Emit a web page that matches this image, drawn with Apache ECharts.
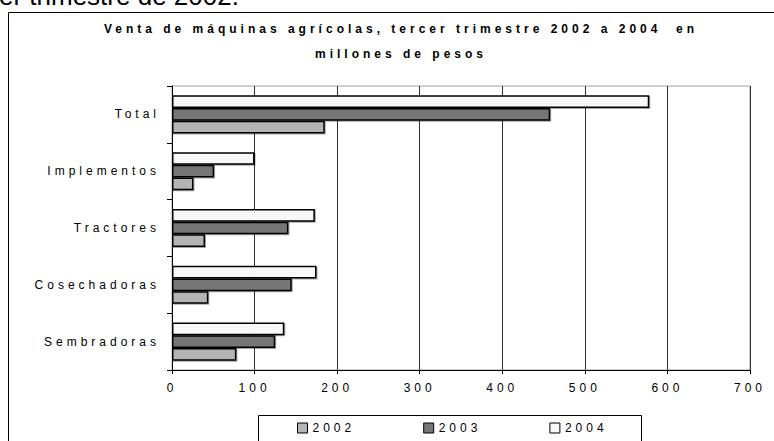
<!DOCTYPE html>
<html><head><meta charset="utf-8">
<script src="https://cdn.jsdelivr.net/npm/echarts@6/dist/echarts.min.js"></script>
<style>
html,body{margin:0;padding:0;background:#fff;}
#c{width:774px;height:441px;}
#c text{letter-spacing:4px;}
#c text[style*="bold"]{letter-spacing:4px;}
#c text[style*="26px"]{letter-spacing:0px;}
</style></head><body><div id="c"></div>
<script>
const categories = ['Total', 'Implementos', 'Tractores', 'Cosechadoras', 'Sembradoras'];
const seriesNames = ['2002', '2003', '2004'];
const v2002 = [185, 26, 40, 44, 78];
const v2003 = [458, 51, 141, 145, 125];
const v2004 = [578, 100, 173, 175, 136];
const xMin = 0, xMax = 700, xStep = 100;
const titleText = 'Venta de máquinas agrícolas, tercer trimestre 2002 a 2004  en\nmillones de pesos';
const pageText = 'er trimestre de 2002.';

const colors = ['#b4b4b4', '#767676', '#f8f8f8'];
const values = [v2002, v2003, v2004];
const font = "'Liberation Sans', Arial, sans-serif";

// draw 2004 first so it sits at the top of each category (axis is inverted)
const order = [2, 1, 0];

const chart = echarts.init(document.getElementById('c'), null, {renderer: 'svg'});
chart.setOption({
  animation: false,
  backgroundColor: '#fff',
  textStyle: {fontFamily: font, color: '#000'},
  title: {
    text: titleText,
    left: 396, top: 11, textAlign: 'center',
    textStyle: {fontSize: 12, fontWeight: 'bold', color: '#000', lineHeight: 25, fontFamily: font}
  },
  graphic: [
    {type: 'rect', z: -10, silent: true, shape: {x: 8.5, y: 12.5, width: 900, height: 600},
     style: {fill: 'none', stroke: '#000', lineWidth: 1}},
    {type: 'text', z: -10, silent: true, left: -1, top: -17,
     style: {text: pageText, font: '26px ' + font, fill: '#000'}},
    {type: 'rect', z: -10, silent: true, shape: {x: 258.5, y: 415.5, width: 383, height: 60},
     style: {fill: '#fff', stroke: '#000', lineWidth: 1}}
  ],
  legend: {
    data: seriesNames,
    left: 292, top: 417,
    itemWidth: 10, itemHeight: 10, itemGap: 84,
    icon: 'rect',
    textStyle: {fontSize: 12, color: '#000', fontFamily: font},
    itemStyle: {borderColor: '#000', borderWidth: 1}
  },
  grid: {left: 172, right: 24, top: 86, bottom: 71, show: true, borderColor: '#a0a0a0', borderWidth: 1},
  xAxis: {
    type: 'value', min: xMin, max: xMax, interval: xStep,
    axisLine: {show: true, lineStyle: {color: '#000', width: 1}},
    axisTick: {show: true, length: 4, lineStyle: {color: '#000'}},
    axisLabel: {color: '#000', fontSize: 12, margin: 12, fontFamily: font},
    splitLine: {show: true, lineStyle: {color: '#333', width: 1}}
  },
  yAxis: {
    type: 'category', data: categories, inverse: true,
    axisLine: {show: true, lineStyle: {color: '#000', width: 1}},
    axisTick: {show: true, length: 5, lineStyle: {color: '#000'}},
    axisLabel: {color: '#000', fontSize: 12, margin: 12, fontFamily: font},
    splitLine: {show: false}
  },
  series: order.map(i => ({
    name: seriesNames[i], type: 'bar', data: values[i],
    barGap: '0%', barCategoryGap: '33%',
    itemStyle: {color: colors[i], borderColor: '#000', borderWidth: 1.5,
      shadowColor: 'rgba(0,0,0,0.35)', shadowOffsetX: 1, shadowOffsetY: 1, shadowBlur: 0}
  }))
});
</script></body></html>
